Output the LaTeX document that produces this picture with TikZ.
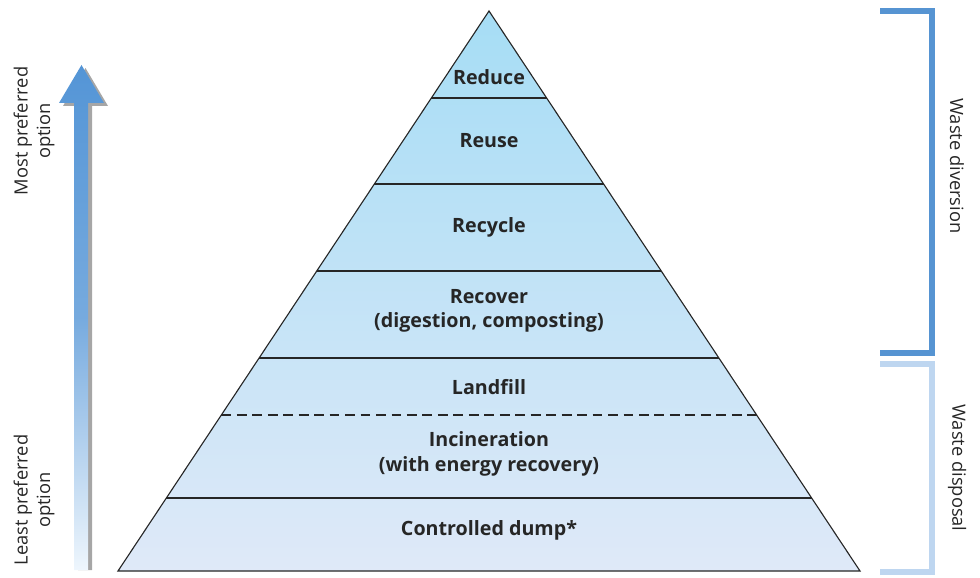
\documentclass[tikz,border=0pt]{standalone}
\usepackage{fontspec}
\setmainfont{Open Sans}
\usepackage{xcolor}
\usetikzlibrary{calc}
\definecolor{pyrtop}{RGB}{166,221,245}
\definecolor{pyrbot}{RGB}{223,233,248}
\definecolor{arrblue}{RGB}{84,149,214}
\definecolor{arrpale}{RGB}{238,246,253}
\definecolor{divblue}{RGB}{86,148,210}
\definecolor{dispblue}{RGB}{190,214,240}
\tikzset{
  level/.style={font=\fontsize{14}{17.5}\selectfont\bfseries, align=center, text=black!85},
  levelline/.style={draw, thick, black!85},
  sidetext/.style={font=\fontsize{13}{16}\selectfont, align=center, text=black!85},
  bracketline/.style={line width=3.6pt},
}

\begin{document}
\begin{tikzpicture}[x=0.025cm, y=-0.025cm]
    \useasboundingbox (0,0) rectangle (980,578);
    % pyramid
    \coordinate (apex) at (489,11);
    \coordinate (bl) at (118,571);
    \coordinate (br) at (860,571);
    \shade[top color=pyrtop, bottom color=pyrbot] (apex) -- (br) -- (bl) -- cycle;
    \foreach \y in {98,184,271,358,498} {
      \draw[levelline] ($(apex)!{(\y-11)/560}!(bl)$) -- ($(apex)!{(\y-11)/560}!(br)$);
    }
    \draw[levelline, dashed, dash pattern=on 7pt off 4pt] ($(apex)!{404/560}!(bl)$) -- ($(apex)!{404/560}!(br)$);
    \draw[thick, black!85, line join=miter] (apex) -- (br) -- (bl) -- cycle;
    \node[level] (reduce)  at (489,77)  {Reduce};
    \node[level] (reuse)   at (489,141) {Reuse};
    \node[level] (recycle) at (489,227) {Recycle};
    \node[level] (recover) at (489,311) {Recover\\(digestion, composting)};
    \node[level] (landfill) at (489,387) {Landfill};
    \node[level] (incin)   at (489,454) {Incineration\\(with energy recovery)};
    \node[level] (dump)    at (489,530) {Controlled dump*};
    % preference arrow
    \fill[gray!70, shift={(4,3)}] (74,567) -- (74,103) -- (59,103) -- (81.5,65) -- (104,103) -- (88,103) -- (88,567) -- cycle;
    \shade[top color=arrblue, bottom color=arrpale, middle color=arrblue!80]
      (74,570) -- (74,103) -- (59,103) -- (81.5,65) -- (104,103) -- (88,103) -- (88,570) -- cycle;
    \node[sidetext, rotate=90] (most)  at (34,131) {Most preferred\\option};
    \node[sidetext, rotate=90] (least) at (34,500) {Least preferred\\option};
    % brackets
    \draw[bracketline, divblue]  (880,11) -- (932,11) -- (932,353) -- (880,353);
    \draw[bracketline, dispblue] (880,364) -- (932,364) -- (932,572) -- (880,572);
    \node[sidetext, rotate=-90] (diversion) at (957,166) {Waste diversion};
    \node[sidetext, rotate=-90] (disposal)  at (957,468) {Waste disposal};
\end{tikzpicture}
\end{document}
